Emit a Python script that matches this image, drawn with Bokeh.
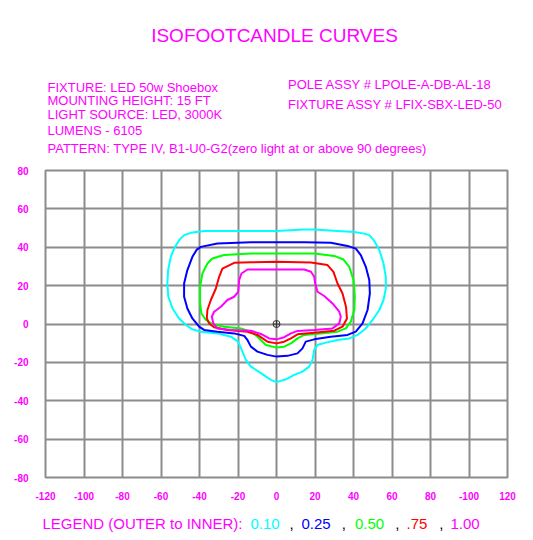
from bokeh.plotting import figure
from bokeh.layouts import column
from bokeh.models import FixedTicker, Label, Range1d
from bokeh.embed import file_html
from bokeh.resources import INLINE

# ---------------- data ----------------
x_ticks = [-120, -100, -80, -60, -40, -20, 0, 20, 40, 60, 80, 100, 120]
x_tick_labels = ["-120", "-100", "-80", "-60", "-40", "-20", "0", "20", "40", "60", "80", "-100", "120"]
y_ticks = [-80, -60, -40, -20, 0, 20, 40, 60, 80]
y_tick_labels = ["-80", "-60", "-40", "-20", "0", "20", "40", "60", "80"]

# isofootcandle contours (x, y) in feet
iso_010 = [(0, 48.5), (-20, 48.5), (-37.6, 48.5), (-44.5, 47.5), (-48, 46.3), (-50.6, 43.7),
           (-53.2, 39.3), (-54.9, 35), (-56.3, 28), (-56.7, 21.1), (-56.2, 14.2), (-54, 8.1),
           (-50.6, 2.9), (-47.1, -0.5), (-43.7, -2.8), (-39.3, -4), (-30.7, -4.9), (-23.7, -6.6),
           (-19.9, -9.2), (-17.7, -14.4), (-15.9, -18.7), (-13.3, -22.2), (-8.1, -25.6),
           (-2.9, -29.1), (0, -30.3), (4.9, -28.8), (9.2, -26.5), (13.5, -24.8), (17, -22.2),
           (18.7, -18.7), (19.6, -13.5), (21.3, -10.9), (25.6, -9.7), (31.7, -8.3), (37.8, -7.5),
           (42.1, -5.7), (46.4, -2.3), (49.9, 2.1), (53.4, 7.3), (55.6, 12.5), (56.8, 18.5),
           (56.8, 24.6), (55.6, 31.5), (53.4, 38.6), (50.8, 43.3), (48.2, 46.3), (45.6, 47.1),
           (40.4, 48), (31.7, 48.5), (19.6, 49.2), (14.4, 49.2), (0, 48.5)]
iso_025 = [(0, 42.6), (-13.3, 42.6), (-30.7, 41.9), (-39.3, 40.2), (-41.4, 38.8), (-43.7, 35),
           (-46.3, 28.1), (-48, 21.1), (-48, 14.2), (-46.3, 8.1), (-43.7, 2.9), (-40.2, -1.4),
           (-37.6, -3.1), (-30.7, -4), (-22, -4.9), (-16.8, -6.2), (-15.1, -8.3), (-13.3, -11.8),
           (-9.9, -14.4), (-4.7, -16.1), (0, -17), (5.7, -16.6), (10.9, -15.3), (13.5, -12.7),
           (15.2, -9.2), (19.6, -8), (28.2, -6.6), (36.9, -5.7), (41.2, -4), (44.7, 0.3),
           (47.3, 7.3), (48.5, 15.9), (48.2, 22.9), (46.4, 29.8), (43.8, 35.9), (41.2, 39.3),
           (36.9, 40.7), (28.2, 42.3), (14.4, 42.6), (0, 42.6)]
iso_050 = [(0, 36.7), (-13.3, 36.7), (-27.2, 36), (-33.3, 34.1), (-35.9, 31.5), (-38.5, 26.3),
           (-39.7, 19.4), (-39.7, 10.7), (-39, 5.5), (-36.7, 2.1), (-33.3, 0), (-27.2, -1.4),
           (-18.5, -2.3), (-13.3, -4), (-9.9, -6.6), (-5.5, -10.9), (0, -12.3), (4, -11.8),
           (7.5, -10.1), (10.9, -7.5), (14.4, -5.7), (23, -4.9), (31.7, -4), (36, -2.3),
           (38.6, 1.2), (40.4, 7.3), (40.7, 14.2), (40, 22.9), (37.8, 29.8), (34.8, 33.6),
           (30, 35.5), (19.6, 36.7), (0, 36.7)]
iso_075 = [(0, 32.4), (-13.3, 32.2), (-22, 31.9), (-28.1, 28.9), (-29.8, 24.6), (-31.5, 18.5),
           (-34.1, 12.5), (-35.9, 7.3), (-36.2, 2.9), (-35, 0.3), (-32.4, -1.7), (-25.5, -3.1),
           (-15.1, -4), (-9.9, -5.7), (-4.7, -9.2), (0, -10.1), (4, -9.2), (7.5, -7.5),
           (10.9, -5.4), (19.6, -4.5), (30, -3.5), (34.3, -1.4), (36.6, 2.9), (36.1, 9),
           (34.3, 15.9), (31.7, 21.1), (29.6, 27.2), (26.5, 30.7), (17.9, 32.1), (0, 32.4)]
iso_100 = [(0, 28.4), (-15.1, 28.4), (-18.2, 26.3), (-19.4, 22.9), (-19.9, 16.8), (-22, 14.2),
           (-25.5, 12.5), (-28.9, 9), (-32.4, 6.4), (-33.6, 3.8), (-32.8, 0.3), (-30.7, -2.3),
           (-23.7, -3.1), (-13.3, -3.5), (-8.1, -5.2), (-3.8, -7.5), (0, -8), (4, -6.9),
           (7.5, -4.9), (10.9, -3.6), (19.6, -3.1), (29.1, -2.3), (32.6, 0.3), (33.4, 3.8),
           (32.6, 6.4), (29.1, 10.7), (24.8, 14.6), (21.3, 16.8), (20.1, 21.1), (19.6, 24.6),
           (17.9, 27.2), (14.4, 28.4), (0, 28.4)]

levels = ["0.10", "0.25", "0.50", ".75", "1.00"]
level_colors = ["#00FFFF", "#0000FF", "#00FF00", "#FF0000", "#FF00FF"]
contours = [iso_010, iso_025, iso_050, iso_075, iso_100]

title_text = "ISOFOOTCANDLE CURVES"
info_left = ["FIXTURE: LED 50w Shoebox", "MOUNTING HEIGHT: 15 FT", "LIGHT SOURCE: LED, 3000K",
             "LUMENS - 6105", "PATTERN: TYPE IV, B1-U0-G2(zero light at or above 90 degrees)"]
info_right = ["POLE ASSY # LPOLE-A-DB-AL-18", "FIXTURE ASSY # LFIX-SBX-LED-50"]
legend_title = "LEGEND (OUTER to INNER):"

# ---------------- styling / layout ----------------
MAG = "#FF00FF"
FONT = "Liberation Sans"
GRID = "#8c8c8c"
W = 533


def text_panel(height):
    f = figure(width=W, height=height, output_backend="svg", toolbar_location=None,
               x_range=Range1d(0, W), y_range=Range1d(0, height), title=None,
               x_axis_location=None, y_axis_location=None, min_border=0,
               frame_align=False)
    f.outline_line_color = None
    f.xgrid.visible = False
    f.ygrid.visible = False
    f.background_fill_color = "white"
    f.border_fill_color = "white"
    return f


def add_text(f, txt, x, y, size, color=MAG, align="left"):
    f.add_layout(Label(x=x, y=y, x_units="canvas", y_units="canvas", text=txt,
                       text_font=FONT, text_font_size=size, text_color=color,
                       text_align=align, text_baseline="alphabetic"))


# ---- header (title + fixture info) ----
head = text_panel(160)
add_text(head, title_text, 274, 35, "19px", align="center")
left_baselines = [86.7, 100, 114.3, 130, 148.3]
for txt, yb in zip(info_left, left_baselines):
    add_text(head, txt, 47, yb, "13px")
right_baselines = [84.3, 104.3]
for txt, yb in zip(info_right, right_baselines):
    add_text(head, txt, 287.5, yb, "13px")

# ---- main chart ----
p = figure(width=W, height=345, output_backend="svg", toolbar_location=None,
           x_range=Range1d(-120, 120), y_range=Range1d(-80, 80), title=None,
           min_border_left=45, min_border_right=26, min_border_top=10, min_border_bottom=28,
           frame_align=False)
p.background_fill_color = "white"
p.border_fill_color = "white"
p.outline_line_color = GRID
p.outline_line_width = 2
p.outline_line_alpha = 1.0

for ax, ticks, labels in ((p.xaxis[0], x_ticks, x_tick_labels), (p.yaxis[0], y_ticks, y_tick_labels)):
    ax.ticker = FixedTicker(ticks=ticks)
    ax.major_label_overrides = {t: l for t, l in zip(ticks, labels)}
    ax.axis_line_color = None
    ax.major_tick_line_color = None
    ax.minor_tick_line_color = None
    ax.major_tick_out = 0
    ax.major_tick_in = 0
    ax.major_label_text_font = FONT
    ax.major_label_text_font_size = "10px"
    ax.major_label_text_font_style = "bold"
    ax.major_label_text_color = MAG
p.xaxis[0].major_label_standoff = 14
p.yaxis[0].major_label_standoff = 17

for g in (p.xgrid[0], p.ygrid[0]):
    g.grid_line_color = GRID
    g.grid_line_width = 2
    g.grid_line_alpha = 1.0

for pts, col in zip(contours, level_colors):
    xs = [a for a, b in pts]
    ys = [b for a, b in pts]
    p.line(xs, ys, line_color=col, line_width=2)

p.scatter([0], [0], marker="circle_cross", size=7, line_color="#333333",
          fill_color=None, line_width=1)

# ---- footer legend ----
foot = text_panel(35)
add_text(foot, legend_title, 42, 18.3, "15px")
legend_x = [250, 301, 354.5, 406, 450]
comma_x = [289, 341.3, 394.7, 438.7]
for txt, col, lx in zip(levels, level_colors, legend_x):
    add_text(foot, txt, lx, 18.3, "15px", color=col)
for cx in comma_x:
    add_text(foot, ",", cx, 18.3, "15px", color="#000000")

layout = column(head, p, foot, spacing=0)
open("out.html", "w").write(file_html(layout, INLINE))
